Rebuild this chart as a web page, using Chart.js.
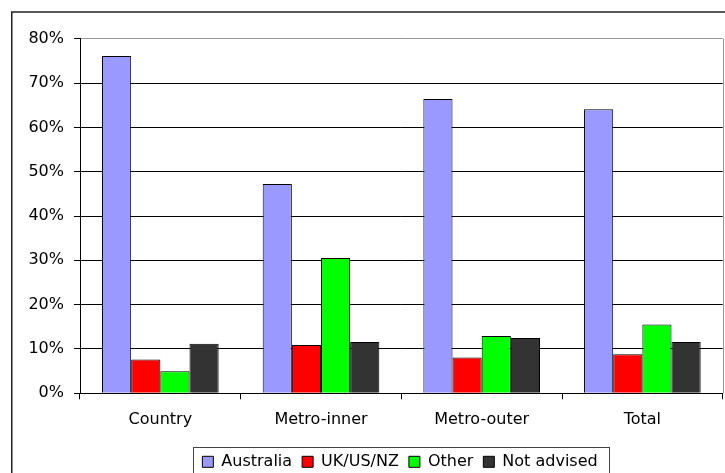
<!DOCTYPE html>
<html>
<head>
<meta charset="utf-8">
<script src="https://cdn.jsdelivr.net/npm/chart.js@4"></script>
<style>
  html, body { margin: 0; padding: 0; background: #fff; }
  #wrap { width: 725px; height: 473px; }
</style>
</head>
<body>
<div id="wrap"><canvas id="c" width="725" height="473"></canvas></div>
<script>
const categories = ["Country", "Metro-inner", "Metro-outer", "Total"];
const seriesNames = ["Australia", "UK/US/NZ", "Other", "Not advised"];
const australia = [76.1, 47.2, 66.4, 64.1];
const ukUsNz = [7.6, 10.9, 8.1, 8.8];
const other = [5.0, 30.5, 12.9, 15.5];
const notAdvised = [11.2, 11.6, 12.5, 11.6];
const seriesColors = ["#9999FF", "#FF0000", "#00FF00", "#333333"];
const yTickValues = [0, 10, 20, 30, 40, 50, 60, 70, 80];

Chart.defaults.font.family = "'DejaVu Sans', sans-serif";
Chart.defaults.font.size = 16;
Chart.defaults.color = "#000";

const seriesValues = [australia, ukUsNz, other, notAdvised];

const framePlugin = {
  id: "frame",
  afterLayout(chart) {
    const lg = chart.legend;
    if (lg) {
      const h = lg.height;
      lg.left = 80; lg.right = 720; lg.width = 640;
      lg.top = 443.8; lg.bottom = 443.8 + h;
    }
  },
  beforeDatasetsDraw(chart) {
    const ctx = chart.ctx, a = chart.chartArea;
    ctx.save();
    ctx.strokeStyle = "#999";
    ctx.lineWidth = 1;
    ctx.beginPath();
    ctx.moveTo(Math.round(a.right) + 0.5, a.top);
    ctx.lineTo(Math.round(a.right) + 0.5, a.bottom);
    ctx.stroke();
    ctx.restore();
  },
  afterDraw(chart) {
    const ctx = chart.ctx;
    ctx.save();
    ctx.strokeStyle = "#222";
    ctx.lineWidth = 1.5;
    ctx.strokeRect(11.75, 12, 900, 900);
    ctx.strokeStyle = "#444";
    ctx.lineWidth = 1;
    ctx.strokeRect(193.5, 447.5, 416, 60);
    ctx.restore();
  }
};

new Chart(document.getElementById("c"), {
  type: "bar",
  data: {
    labels: categories,
    datasets: seriesNames.map((name, i) => ({
      label: name,
      data: seriesValues[i],
      backgroundColor: seriesColors[i],
      borderColor: "#000",
      borderWidth: 1,
      categoryPercentage: 0.726,
      barPercentage: 1.0
    }))
  },
  options: {
    responsive: false,
    animation: false,
    devicePixelRatio: 1,
    layout: { padding: { left: 0, top: 38.7, right: 2.3, bottom: 0 } },
    plugins: {
      legend: {
        position: "bottom",
        labels: { boxWidth: 11, boxHeight: 11, padding: 10, color: "#000", font: { size: 16 } }
      },
      tooltip: { enabled: false },
      title: { display: false }
    },
    scales: {
      x: {
        offset: true,
        grid: { display: true, offset: true, drawOnChartArea: false, drawTicks: true, tickLength: 6, color: "#000" },
        border: { display: true, color: "#000", width: 1 },
        ticks: { padding: 11, color: "#000", font: { size: 16 }, maxRotation: 0 },
        afterFit(scale) { scale.height = 473 - 393.3 - 36; }
      },
      y: {
        min: 0,
        max: 80,
        afterBuildTicks(scale) { scale.ticks = yTickValues.map(v => ({ value: v })); },
        grid: {
          color: (c) => (c.tick && c.tick.value === 80 ? "#999" : "#000"),
          tickColor: "#000",
          tickLength: 6,
          lineWidth: 1
        },
        border: { display: true, color: "#000", width: 1 },
        ticks: { padding: 10, color: "#000", font: { size: 16 }, callback: (v) => v + "%" },
        afterFit(scale) { scale.width = 80; }
      }
    }
  },
  plugins: [framePlugin]
});
</script>
</body>
</html>
